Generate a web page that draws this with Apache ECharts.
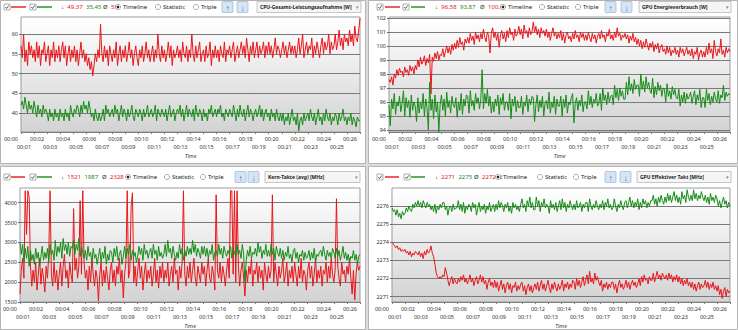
<!DOCTYPE html>
<html><head><meta charset="utf-8">
<script src="https://cdn.jsdelivr.net/npm/echarts@6/dist/echarts.min.js"></script>
<style>html,body{margin:0;padding:0;background:#fff}#c{width:738px;height:330px}</style>
</head><body><div id="c"></div>
<script>
// readings every 6 s, 00:00 .. 00:26 (10 per minute, one row per minute)
const STEP = 6;

// CPU-Gesamt-Leistungsaufnahme [W]
const cpuPowerRed = [
57,54,60,53,56,52,58,55,57,54, 56,53,58,54,57,52,56,55,58,53, 55,57,52,56,54,58,53,56,54,57,
53,56,58,54,57,52,55,57,53,56, 54,57,53,56,52,55,58,54,56,53, 55,52,54,51,53,49.37,52,55,53,56,
54,62.5,55,53,57,54,56,52,57,55, 53,56,54,58,52,55,57,53,56,54, 57,53,55,58,54,56,52,55,57,54,
52,56,54,57,53,55,58,54,56,53, 55,57,53,56,54,60,55,53,57,54, 56,53,55,58,54,57,52,56,54,55,
57,54,56,53,58,55,54,57,53,56, 54,60,55,53,57,54,56,58,53,55, 56,53,57,54,55,58,52,56,54,57,
54,56,53,57,55,54,58,53,56,55, 57,54,56,58,53,55,57,54,56,58, 55,57,54,59,56,53,57,55,58,54,
56,58,54,57,55,56,58,54,57,55, 58,55,57,54,56,59,55,57,56,54, 56,58,55,57,54,56,58,55,57,55,
57,54,56,59,55,57,60,54,56,58, 55,57,56,59,54,57,55,58,56,54, 57,59,55,58,56,57,60,55,58,56,
57,60,56,58,61,57,59,56,60,58, 59,57,61,58,60,57,62,59,58,61, 64];
const cpuPowerGreen = [
42,43,41,44,42,40,43,41,42,40, 43,41,39,42,40,41,39,42,40,41, 40,38,41,39,40,38,41,39,40,38,
41,39,40,38,41,39,40,38,42,40, 39,41,40,42,41,39,42,40,43,41, 42,40,43,41,39,40,38,41,39,38,
40,38,39,41,38,42,40,41,39,40, 41,39,42,40,41,38,40,42,39,41, 40,38,41,39,40,42,39,38,41,40,
39,41,40,38,41,39,40,42,39,40, 41,39,40,42,38,41,40,39,41,40, 39,41,38,40,42,39,40,41,38,40,
41,40,42,39,41,38,40,42,39,41, 40,39,41,38,42,40,39,41,40,38, 41,39,40,38,41,40,42,39,40,41,
39,41,40,42,39,40,38,41,40,39, 41,40,39,42,40,38,41,39,42,40, 39,41,38,40,42,39,41,40,38,40,
41,39,40,42,39,41,38,40,41,39, 40,38,41,39,40,38,41,39,38,40, 38,40,37,39,38,40,37,39,41,38,
39,37,40,35.45,38,39,37,40,38,39, 40,38,41,39,38,40,37,39,41,38, 39,37,40,38,41,39,38,40,37,39,
38,40,39,37,40,38,39,41,38,39, 37,39,38,40,37,39,38,36.5,39,38, 38];

// GPU Energieverbrauch [W]
const gpuPowerRed = [
97.6,97.4,97.8,97.2,98.0,97.7,98.3,97.9,98.4,98.1, 98.2,97.8,98.5,98.1,98.3,97.9,98.6,98.2,98.5,98.0,
98.6,98.3,99.0,98.5,99.2,98.7,98.9,99.3,98.6,99.1, 98.8,99.4,96.58,99.2,98.9,99.5,99.1,99.6,99.0,99.4,
99.3,99.8,99.2,99.6,100.0,99.5,99.9,99.4,100.1,99.7, 100.2,99.8,100.4,99.9,100.6,100.1,100.3,99.7,100.5,100.2,
100.6,100.2,100.9,100.4,100.7,100.1,101.0,100.5,100.8,100.3, 100.9,100.5,101.2,100.6,100.3,101.0,100.7,99.5,100.9,101.3,
100.6,101.0,100.4,100.9,99.9,100.8,101.1,100.5,100.9,100.3, 101.1,100.6,101.3,100.8,101.0,100.4,101.2,100.7,100.9,101.4,
100.8,101.2,100.5,101.5,100.9,101.1,100.6,101.3,100.8,101.0, 101.7,101.0,101.4,100.8,101.2,100.6,101.3,100.9,101.1,100.7,
101.2,100.6,101.0,100.4,100.9,101.3,100.7,101.0,100.5,100.9, 100.6,101.1,100.4,100.9,100.2,100.8,101.0,100.5,100.7,100.3,
100.9,100.5,101.1,100.6,100.8,100.3,101.0,100.6,100.9,100.4, 100.8,100.4,101.0,100.6,100.3,100.9,100.5,100.8,100.2,100.7,
100.9,100.5,101.1,100.6,100.8,100.3,100.9,100.7,101.2,100.5, 100.8,100.4,101.0,100.6,101.3,100.7,100.9,100.4,100.8,100.6,
100.9,100.5,100.8,100.2,100.7,100.4,100.9,100.3,100.6,100.1, 100.5,100.0,100.4,99.8,100.3,99.9,100.5,100.1,99.7,100.2,
99.9,100.3,99.6,100.1,99.8,100.2,99.5,99.9,100.1,99.6, 99.8,99.4,100.0,99.5,99.9,99.3,99.7,99.5,99.9,99.4,
99.7,99.2,99.9,99.5,99.8,99.3,99.6,99.9,99.4,99.7, 99.3,99.8,99.1,99.6,99.4,99.9,99.0,99.5,99.7,99.2,
99.6,99.2,99.9,99.4,100.2,99.5,99.8,99.1,100.4,99.6, 99.3,99.8,99.5,100.5,99.4,99.7,99.2,99.9,99.5,99.8,
99.6];
const gpuPowerGreen = [
95.8,94.3,96.2,95.5,96.6,95.1,96.0,95.7,96.4,95.3, 95.9,96.8,95.0,96.3,95.6,96.1,94.9,96.5,95.4,96.0,
95.7,94.6,96.3,95.2,96.0,95.5,96.6,95.0,96.2,95.6, 94.0,97.4,95.4,96.2,94.8,96.5,95.3,96.0,93.87,95.8,
96.5,95.4,96.2,95.0,96.7,95.6,96.1,95.2,96.4,95.8, 95.6,96.3,94.9,96.0,95.4,96.6,95.1,96.2,95.7,96.5,
96.4,95.2,96.8,95.7,96.1,95.4,96.6,95.9,96.3,95.5, 96.2,98.3,95.5,96.6,95.9,96.9,95.7,96.4,95.2,96.0,
95.3,96.2,95.7,96.5,95.1,96.3,95.8,96.6,95.4,96.0, 96.0,95.4,96.6,94.8,96.2,95.7,96.4,95.3,96.1,95.6,
95.6,96.4,95.1,96.0,95.7,96.5,95.3,96.2,95.8,96.4, 96.3,94.6,95.8,96.5,95.3,96.1,95.6,96.4,95.0,95.9,
96.1,95.5,96.7,95.2,96.0,95.6,96.4,95.1,96.2,95.7, 95.7,96.4,95.0,96.2,95.6,96.5,95.2,96.0,95.8,96.3,
96.6,94.5,95.9,96.3,95.4,96.1,95.7,96.5,95.3,96.0, 96.0,95.5,96.8,95.8,96.4,95.6,96.2,95.9,96.6,95.7,
95.9,96.6,95.4,97.0,96.1,96.5,95.8,96.7,96.0,96.4, 96.5,95.8,97.2,96.3,96.9,96.1,97.0,96.4,96.8,96.2,
96.2,97.4,96.5,97.8,96.8,97.3,96.6,97.6,96.9,97.2, 97.2,96.4,98.0,96.9,97.5,96.7,97.8,97.0,97.4,96.8,
96.6,97.7,96.3,97.1,96.5,97.4,96.8,97.2,96.4,97.0, 96.9,96.0,97.3,96.4,96.8,96.2,97.1,96.5,96.9,96.3,
96.2,96.9,95.7,96.5,96.0,96.7,95.9,96.6,96.2,96.4, 96.7,95.9,96.4,96.8,95.8,96.5,96.1,96.9,95.6,96.3,
96.3,95.6,96.9,96.1,96.6,95.8,96.4,96.0,96.7,96.2, 96.0,96.8,95.9,96.5,96.3,97.2,96.1,96.7,96.4,96.6,
96.5];

// Kern-Takte (avg) [MHz]
const coreClockRed = [
1700,2300,2600,2100,4300,3200,4300,4150,2400,1900, 2300,2000,2500,1800,2200,2600,1950,2350,2100,1750,
2400,2100,2700,4300,2200,1900,2500,2000,2300,1800, 2200,2500,1900,2400,2700,2100,2300,1850,2500,2200,
2000,3850,2300,2600,2100,2400,4050,2200,4300,2500, 2100,2300,1800,2400,2000,2600,2200,1900,2300,2100,
1521,2200,2500,1900,2300,2000,2400,2100,1800,2300, 2500,2000,2300,1900,2400,2200,2600,2000,2300,1600,
2200,2500,4300,2100,2300,3900,4250,2000,2400,1900, 2300,2600,2100,2400,1800,2200,2500,2000,2300,2100,
2400,1900,2200,2600,2000,2300,1850,2400,2100,2500, 2000,2300,2100,2500,1900,2200,2400,2000,2600,2200,
2300,1800,2400,2100,2500,4300,2200,1900,2400,2100, 2500,2000,2300,2600,2100,1900,2400,2200,2000,2500,
2200,2400,1900,2300,2600,2100,2000,2400,2200,1800, 4200,2300,2100,2500,2000,2400,2200,1900,2300,2600,
2100,4300,4300,2200,4300,2000,4300,2400,1900,2300, 2500,2100,1650,2300,2000,2400,2200,2600,1900,2300,
2200,2500,2000,2400,2100,2300,1800,2500,2200,2000, 2400,2100,2300,4200,2000,2500,2200,1900,2400,2100,
2300,2600,2000,2200,2500,1900,2300,2100,2400,2000, 2500,2200,1900,2400,2100,2600,2000,2300,2200,1800,
2300,2500,2100,2400,1900,2200,2600,2000,2300,2100, 2400,1900,2300,2200,2500,2000,2400,2100,2600,2200,
2000,2300,4100,2400,2100,1900,2500,2200,2300,2000, 2400,2200,2600,2100,1700,2300,1550,2200,2500,2300,
2400];
const coreClockGreen = [
3000,2700,2950,2500,2850,2600,2900,2400,2800,2550, 2700,2450,2850,2600,2750,2400,2650,2900,2550,2750,
2600,2850,2500,2950,2700,2800,2550,3050,2650,2900, 2750,3000,2600,3100,2800,2950,2700,3000,2650,2900,
2850,3050,2700,2950,2800,3100,2650,2900,2750,2600, 2800,2550,2900,2650,2750,2500,2850,2600,2700,2450,
2650,2850,2500,2750,2600,2900,2450,2700,2550,2800, 2750,2500,2850,2650,2900,2550,2700,2800,2450,2650,
2900,2600,2850,2700,2950,2550,2800,2650,2750,2500, 2650,2900,2700,2850,2550,2950,2700,2800,2600,2750,
2850,2600,2950,2700,2800,2550,2900,2650,2750,2600, 2700,2950,2650,3050,2750,2850,2600,2900,2700,2550,
2750,2600,2950,2700,2850,2550,2800,2650,2900,2700, 2850,2700,3050,2750,2950,2650,2850,2750,2600,2900,
2700,2900,2650,2850,2600,2800,2700,2950,2550,2750, 2800,2650,2950,2700,2850,2600,2900,2750,2650,2800,
2700,2900,2600,2850,2750,2650,2950,2700,2800,2600, 2950,2700,1987,2550,2800,2650,2900,2600,2750,2700,
2850,2650,3000,2750,2900,2600,2800,2700,2950,2650, 2800,2650,2950,2700,2850,2550,2900,2750,2650,2850,
2600,2800,2550,2750,2650,2900,2600,2700,2500,2800, 2850,2600,2750,2500,2700,2650,2800,2550,2750,2600,
2650,2800,2550,2750,2600,2850,2500,2700,2650,2750, 2800,2650,2900,2700,2550,2800,2650,2750,2600,2850,
2750,2600,2850,2650,2800,2550,2700,2900,2600,2750, 2550,2700,2500,2650,2600,2800,2550,2700,2450,2650,
2700];

// GPU Effektiver Takt [MHz]
const gpuClockRed = [
2274.0,2273.9,2273.8,2273.7,2273.8,2273.6,2273.7,2273.5,2273.6,2273.5, 2273.6,2273.4,2273.5,2273.3,2273.5,2273.2,2273.4,2273.3,2273.5,2273.4,
2273.3,2273.5,2273.2,2273.4,2273.1,2273.5,2273.3,2273.6,2273.4,2273.5, 2273.8,2273.4,2273.2,2272.8,2272.3,2272.1,2272.0,2272.1,2272.0,2272.2,
2272.1,2272.6,2272.3,2271.9,2271.6,2271.9,2272.1,2271.7,2272.0,2271.8, 2271.7,2272.0,2271.8,2272.1,2271.9,2272.2,2271.8,2272.0,2271.7,2271.9,
2272.2,2271.8,2272.0,2271.6,2271.9,2272.1,2271.7,2271.9,2272.2,2271.8, 2272.1,2271.7,2271.9,2271.4,2271.8,2272.0,2271.6,2271.8,2271.5,2271.9,
2271.5,2271.8,2271.3,2271.6,2271.9,2271.4,2271.7,2271.2,2271.6,2271.8, 2271.4,2271.7,2271.2,2271.6,2271.5,2271.8,2271.3,2271.6,2271.4,2271.7,
2271.8,2271.3,2271.6,2271.1,2271.5,2271.7,2271.3,2271.6,2271.2,2271.5, 2271.7,2271.4,2271.8,2271.3,2271.6,2271.9,2271.4,2271.7,2271.3,2271.6,
2271.9,2271.5,2271.2,2271.7,2271.4,2271.8,2271.5,2271.3,2271.7,2271.4, 2271.6,2271.9,2271.3,2271.7,2271.5,2271.8,2271.4,2271.7,2271.5,2271.9,
2271.8,2271.4,2272.0,2271.6,2271.9,2271.5,2271.8,2272.1,2271.6,2271.9, 2272.2,2271.7,2272.4,2271.8,2272.0,2271.7,2272.3,2271.9,2272.1,2271.8,
2271.6,2271.9,2271.3,2271.7,2271.5,2271.8,2271.4,2271.7,2271.5,2271.8, 2271.8,2271.4,2271.7,2271.2,2271.6,2271.9,2271.5,2271.7,2271.4,2271.6,
2271.9,2271.5,2271.8,2271.4,2271.7,2271.9,2271.6,2271.8,2271.5,2271.7, 2272.0,2271.6,2272.1,2271.8,2272.2,2271.9,2272.0,2271.7,2272.1,2271.9,
2271.9,2272.3,2271.8,2272.1,2272.4,2272.0,2272.2,2271.9,2272.3,2272.1, 2272.0,2272.2,2271.9,2272.3,2272.0,2272.2,2271.8,2272.1,2271.9,2272.2,
2271.8,2272.1,2271.7,2272.0,2271.6,2271.9,2271.7,2272.0,2271.6,2271.8, 2271.5,2271.8,2271.4,2271.7,2271.3,2271.6,2271.8,2271.4,2271.7,2271.5,
2271.6,2271.9,2271.5,2271.8,2271.4,2271.7,2271.5,2271.8,2271.4,2271.6, 2271.3,2271.6,2271.1,2271.4,2270.9,2271.3,2271.5,2271.0,2271.4,2271.2,
2271.3];
const gpuClockGreen = [
2275.9,2275.7,2275.8,2275.5,2275.8,2275.4,2275.6,2275.3,2275.7,2275.5, 2275.6,2275.9,2275.7,2276.0,2275.8,2275.7,2276.1,2275.9,2276.2,2276.0,
2276.3,2276.0,2276.2,2275.9,2276.3,2276.1,2275.9,2276.2,2276.0,2276.1, 2275.8,2276.0,2275.7,2276.1,2275.6,2276.0,2275.8,2276.1,2275.9,2276.2,
2276.2,2275.8,2276.0,2275.5,2275.9,2276.0,2275.7,2276.1,2275.8,2275.9, 2275.9,2276.3,2275.8,2276.1,2275.7,2276.2,2275.6,2276.0,2275.8,2276.1,
2276.0,2275.7,2276.2,2275.9,2276.1,2275.5,2275.9,2276.2,2275.7,2276.0, 2275.8,2276.1,2275.6,2276.0,2275.8,2276.2,2275.7,2275.9,2276.1,2275.7,
2276.1,2275.8,2276.3,2275.9,2276.2,2276.0,2275.7,2276.1,2275.9,2276.2, 2275.7,2276.0,2275.6,2276.2,2275.9,2276.1,2275.8,2276.0,2275.7,2276.1,
2276.4,2275.9,2276.1,2275.7,2276.3,2276.0,2276.5,2275.9,2276.2,2275.8, 2275.8,2276.5,2276.0,2276.3,2275.7,2276.2,2276.0,2276.4,2275.9,2276.1,
2276.0,2275.6,2276.3,2275.9,2276.1,2275.8,2276.2,2275.7,2276.0,2276.3, 2275.8,2276.4,2275.9,2276.2,2275.7,2276.1,2275.9,2276.3,2276.0,2275.8,
2276.1,2275.8,2276.3,2275.9,2276.0,2276.2,2275.7,2276.1,2275.9,2276.2, 2276.2,2275.7,2276.4,2276.0,2275.8,2276.1,2275.9,2276.3,2276.0,2275.8,
2276.1,2275.9,2276.3,2275.8,2276.2,2276.0,2276.4,2275.9,2276.1,2275.8, 2275.9,2276.4,2276.0,2275.7,2276.1,2275.9,2276.3,2276.0,2275.8,2276.2,
2276.3,2275.9,2276.2,2276.5,2276.0,2276.3,2275.9,2276.2,2276.0,2276.4, 2275.8,2276.2,2275.9,2276.4,2276.1,2276.3,2275.9,2276.2,2276.0,2276.3,
2276.3,2276.6,2276.1,2276.4,2276.0,2276.5,2276.2,2276.6,2276.3,2276.1, 2276.5,2276.2,2276.7,2276.3,2276.6,2276.2,2276.5,2276.8,2276.3,2276.6,
2276.2,2276.5,2276.1,2276.8,2276.4,2276.6,2276.2,2276.9,2276.5,2276.3, 2276.6,2276.3,2276.9,2276.4,2276.7,2276.3,2276.6,2276.4,2276.8,2276.5,
2276.3,2276.6,2276.2,2276.5,2276.1,2276.7,2276.3,2276.5,2276.2,2276.6, 2276.4,2276.0,2276.3,2275.9,2276.2,2276.5,2276.1,2276.3,2275.9,2276.2,
2276.0];

// y-axis tick labels per panel
const cpuPowerTicks = [40, 45, 50, 55, 60];
const gpuPowerTicks = [94, 95, 96, 97, 98, 99, 100, 101, 102];
const coreClockTicks = [1500, 2000, 2500, 3000, 3500, 4000];
const gpuClockTicks = [2271, 2272, 2273, 2274, 2275, 2276];

// time axis: 00:00 .. 00:26, even minutes on the first label row, odd minutes below
const TIME_MAX = 1560;
const evenMinuteTicks = [];
const oddMinuteTicks = [];
for (let m = 0; m <= 26; m++) (m % 2 ? oddMinuteTicks : evenMinuteTicks).push(m * 60);

// header texts
const sensorNames = ['CPU-Gesamt-Leistungsaufnahme [W]', 'GPU Energieverbrauch [W]', 'Kern-Takte (avg) [MHz]', 'GPU Effektiver Takt [MHz]'];
const minRed = ['49,37', '96,58', '1521', '2271'];
const minGreen = ['35,45', '93,87', '1987', '2275'];
const avgRed = ['55', '100,0', '2328', '2272'];
const avgGreenCut = ['', '', '2', '2'];
const modeLabels = ['Timeline', 'Statistic', 'Triple'];

const RED = '#e8161b';
const GREEN = '#178c17';

const panels = [
  { red: cpuPowerRed, green: cpuPowerGreen, ticks: cpuPowerTicks, yMin: 35.2, yMax: 64.3,
    grid: { left: 21, top: 17, width: 339, height: 115 } },
  { red: gpuPowerRed, green: gpuPowerGreen, ticks: gpuPowerTicks, yMin: 93.85, yMax: 102.07,
    grid: { left: 389, top: 17, width: 341, height: 115 } },
  { red: coreClockRed, green: coreClockGreen, ticks: coreClockTicks, yMin: 1500, yMax: 4370,
    grid: { left: 20, top: 188, width: 340, height: 114 } },
  { red: gpuClockRed, green: gpuClockGreen, ticks: gpuClockTicks, yMin: 2270.7, yMax: 2277.0,
    grid: { left: 392, top: 188, width: 338, height: 114 } }
];

// header control positions (absolute x) for each panel
const headerLayout = [
  { y: 7,   cb1: 4,   l1: [11, 26],  cb2: 30,  l2: [37, 52],  min: 61,  avg: 103, r: [118, 158, 196], b: [222, 237], dd: [257, 361] },
  { y: 7,   cb1: 377, l1: [385, 400], cb2: 403, l2: [411, 425], min: 435, avg: 480, r: [503, 542, 578], b: [605, 621], dd: [639, 731] },
  { y: 177, cb1: 4,   l1: [11, 25],  cb2: 30,  l2: [37, 52],  min: 61,  avg: 102, r: [128, 167, 203], b: [235, 248], dd: [265, 360] },
  { y: 177, cb1: 377, l1: [385, 399], cb2: 404, l2: [411, 425], min: 435, avg: 474, r: [498, 540, 576], b: [605, 620], dd: [637, 731] }
];

const FONT = '"Noto Sans", "Open Sans", sans-serif';

function toPoints(values) {
  return values.map((v, i) => [i * STEP, v]);
}

function timeLabel(v) {
  return '00:' + String(Math.round(v / 60)).padStart(2, '0');
}

function checkbox(x, y) {
  return [
    { type: 'rect', shape: { x: x, y: y - 3, width: 6, height: 6 }, style: { fill: '#fff', stroke: '#8c8c8c', lineWidth: 0.7 } },
    { type: 'polyline', shape: { points: [[x + 1.3, y], [x + 2.6, y + 1.5], [x + 4.8, y - 1.6]] }, style: { stroke: '#333', lineWidth: 0.8, fill: null } }
  ];
}

function radio(x, y, on) {
  const els = [{ type: 'circle', shape: { cx: x, cy: y, r: 2.6 }, style: { fill: '#fff', stroke: '#7a7a7a', lineWidth: 0.6 } }];
  if (on) els.push({ type: 'circle', shape: { cx: x, cy: y, r: 1.3 }, style: { fill: '#222' } });
  return els;
}

function header(i) {
  const h = headerLayout[i];
  const y = h.y;
  let els = [];
  els = els.concat(checkbox(h.cb1, y));
  els.push({ type: 'line', shape: { x1: h.l1[0], y1: y, x2: h.l1[1], y2: y }, style: { stroke: RED, lineWidth: 1.4 } });
  els = els.concat(checkbox(h.cb2, y));
  els.push({ type: 'line', shape: { x1: h.l2[0], y1: y, x2: h.l2[1], y2: y }, style: { stroke: GREEN, lineWidth: 1.4 } });
  const rich = {
    k: { fontSize: 6, fontFamily: FONT, fill: '#333' },
    r: { fontSize: 6, fontFamily: FONT, fill: RED },
    g: { fontSize: 6, fontFamily: FONT, fill: GREEN }
  };
  els.push({ type: 'text', x: h.min, y: y, style: { text: '{k|↓} {r|' + minRed[i] + '} {g|' + minGreen[i] + '}', rich: rich, verticalAlign: 'middle' } });
  els.push({ type: 'text', x: h.avg, y: y, style: { text: '{k|Ø} {r|' + avgRed[i] + '} {g|' + avgGreenCut[i] + '}', rich: rich, verticalAlign: 'middle' } });
  // radio buttons and mode captions
  for (let k = 0; k < 3; k++) {
    els = els.concat(radio(h.r[k], y, k === 0));
    els.push({ type: 'text', x: h.r[k] + 5, y: y, style: { text: modeLabels[k], fontSize: 6, fontFamily: FONT, fill: '#222', verticalAlign: 'middle' } });
  }
  // arrow buttons
  ['↑', '↓'].forEach((a, k) => {
    const bx = h.b[k];
    els.push({ type: 'rect', shape: { x: bx, y: y - 5.5, width: 11, height: 11, r: 1 }, style: { fill: '#d6e5f4', stroke: '#98b4d6', lineWidth: 0.7 } });
    els.push({ type: 'text', x: bx + 5.5, y: y, style: { text: a, fontSize: 8, fontWeight: 'bold', fontFamily: FONT, fill: '#2f74d0', align: 'center', verticalAlign: 'middle' } });
  });
  // sensor dropdown
  els.push({ type: 'rect', shape: { x: h.dd[0], y: y - 5.5, width: h.dd[1] - h.dd[0], height: 11 }, style: { fill: '#f5f5f5', stroke: '#b0b0b0', lineWidth: 0.7 } });
  els.push({ type: 'text', x: h.dd[0] + 3, y: y, style: { text: sensorNames[i], fontSize: 5, fontWeight: 'bold', fontFamily: FONT, fill: '#222', verticalAlign: 'middle' } });
  els.push({ type: 'text', x: h.dd[1] - 4, y: y, style: { text: '▾', fontSize: 5, fontFamily: FONT, fill: '#888', align: 'center', verticalAlign: 'middle' } });
  return els;
}

// panel frames
const frames = [
  { type: 'rect', z: -10, shape: { x: 0.5, y: 0.5, width: 365, height: 163 }, style: { fill: '#fff', stroke: '#b4b4b4', lineWidth: 1 } },
  { type: 'rect', z: -10, shape: { x: 368.5, y: 0.5, width: 369, height: 163 }, style: { fill: '#fff', stroke: '#b4b4b4', lineWidth: 1 } },
  { type: 'rect', z: -10, shape: { x: 0.5, y: 166.5, width: 365, height: 163 }, style: { fill: '#fff', stroke: '#b4b4b4', lineWidth: 1 } },
  { type: 'rect', z: -10, shape: { x: 368.5, y: 166.5, width: 369, height: 163 }, style: { fill: '#fff', stroke: '#b4b4b4', lineWidth: 1 } }
];

const plotFill = new echarts.graphic.LinearGradient(0, 0, 0, 1, [
  { offset: 0, color: '#ffffff' },
  { offset: 1, color: '#d3d3d3' }
]);

const labelBase = { fontSize: 5.5, fontFamily: FONT, color: '#333', align: 'right', padding: [0, 3, 0, 0], formatter: timeLabel };

const option = {
  animation: false,
  backgroundColor: '#dcdcdc',
  grid: panels.map(p => Object.assign({
    show: true, backgroundColor: plotFill, borderColor: '#9b9b9b', borderWidth: 1,
    containLabel: false, outerBoundsMode: 'none'
  }, p.grid)),
  xAxis: panels.flatMap((p, i) => [
    {
      gridIndex: i, type: 'value', position: 'bottom', min: 0, max: TIME_MAX, interval: 60,
      axisLine: { show: true, lineStyle: { color: '#7d7d7d', width: 1 } },
      axisTick: { show: true, length: 2, lineStyle: { color: '#7d7d7d' } },
      splitLine: { show: false },
      axisLabel: Object.assign({ margin: 4, customValues: evenMinuteTicks }, labelBase),
      name: 'Time', nameLocation: 'middle', nameGap: 21, nameMoveOverlap: false,
      nameTextStyle: { fontStyle: 'italic', fontSize: 5.5, fontFamily: FONT, color: '#333' }
    },
    {
      gridIndex: i, type: 'value', position: 'bottom', offset: 0, min: 0, max: TIME_MAX, interval: 60,
      axisLine: { show: false }, axisTick: { show: false }, splitLine: { show: false },
      axisLabel: Object.assign({ margin: 12, customValues: oddMinuteTicks }, labelBase)
    }
  ]),
  yAxis: panels.map((p, i) => ({
    gridIndex: i, type: 'value', min: p.yMin, max: p.yMax,
    axisLine: { show: false },
    axisTick: { show: true, length: 2, customValues: p.ticks, lineStyle: { color: '#666' } },
    axisLabel: { fontSize: 5.5, fontFamily: FONT, color: '#333', margin: 3, customValues: p.ticks,
      showMinLabel: true, showMaxLabel: true, formatter: v => String(v) },
    splitLine: { show: true, lineStyle: { color: '#7a7a7a', width: 1 } }
  })),
  series: panels.flatMap((p, i) => [
    { type: 'line', xAxisIndex: 2 * i, yAxisIndex: i, data: toPoints(p.red), showSymbol: false, symbol: 'none',
      lineStyle: { color: RED, width: 1 }, itemStyle: { color: RED }, z: 3 },
    { type: 'line', xAxisIndex: 2 * i, yAxisIndex: i, data: toPoints(p.green), showSymbol: false, symbol: 'none',
      lineStyle: { color: GREEN, width: 1 }, itemStyle: { color: GREEN }, z: 4 }
  ]),
  graphic: { elements: frames.concat(header(0), header(1), header(2), header(3)) }
};

const chart = echarts.init(document.getElementById('c'), null, { renderer: 'svg', width: 738, height: 330 });
chart.setOption(option);
</script>
</body></html>
